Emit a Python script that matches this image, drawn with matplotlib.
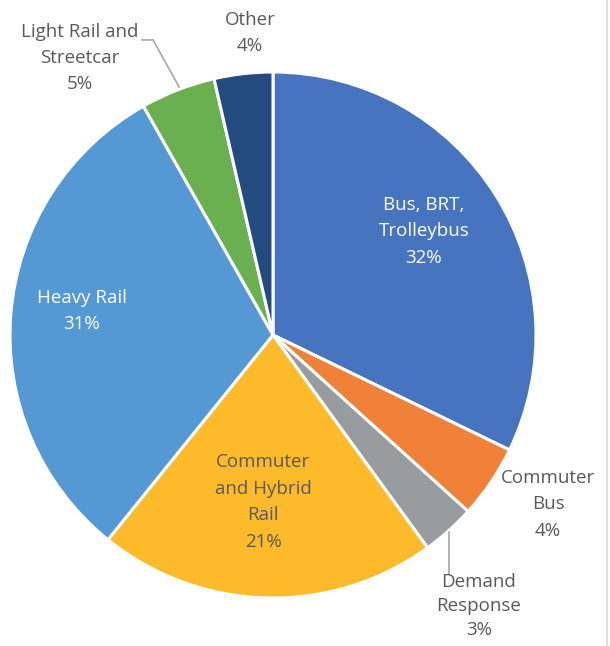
import matplotlib
matplotlib.use("Agg")
import matplotlib.pyplot as plt
from matplotlib.lines import Line2D

categories = ["Bus, BRT,\nTrolleybus", "Commuter\nBus", "Demand\nResponse",
              "Commuter\nand Hybrid\nRail", "Heavy Rail", "Light Rail and\nStreetcar", "Other"]
shares = [32.2, 4.5, 3.3, 20.8, 31.0, 4.6, 3.6]
pct_labels = ["32%", "4%", "3%", "21%", "31%", "5%", "4%"]

colors = ["#4674BE", "#F08138", "#999C9F", "#FDBB2B", "#5499D4", "#6BB050", "#234B7F"]
text_colors = ["white", "#595959", "#595959", "#595959", "white", "#595959", "#595959"]
label_pos = [(0.574, 0.395), (1.046, -0.643), (0.783, -1.030), (-0.038, -0.635),
             (-0.726, 0.091), (-0.734, 1.053), (-0.087, 1.148)]

W, H = 610, 646
fig = plt.figure(figsize=(W / 100, H / 100), dpi=100)
cx, cy, R = 273, 335, 263
ax = fig.add_axes([(cx - R) / W, (H - cy - R) / H, 2 * R / W, 2 * R / H])

ax.pie(shares, colors=colors, startangle=90, counterclock=False, radius=1,
       wedgeprops=dict(edgecolor="white", linewidth=2.2))
ax.set_xlim(-1, 1)
ax.set_ylim(-1, 1)
ax.set_aspect("equal")
ax.axis("off")

for i, (name, pct, (x, y), tc) in enumerate(zip(categories, pct_labels, label_pos, text_colors)):
    ax.text(x, y, name + "\n" + pct, ha="center", va="center", color=tc,
            fontsize=13.5, family="Open Sans",
            linespacing=1.6 if i != 2 else 1.45, clip_on=False)

# leader lines
ax.add_line(Line2D([-0.498, -0.456, -0.357], [1.122, 1.122, 0.943], color="#A6A6A6",
                   lw=1.2, clip_on=False))
ax.add_line(Line2D([0.669, 0.669], [-0.749, -0.909], color="#A6A6A6", lw=1.2, clip_on=False))

# chart frame edge on the right
fig.add_artist(Line2D([607 / W, 607 / W], [0, 1], color="#D9D9D9", lw=1.2,
                      transform=fig.transFigure))

fig.savefig("out.png", dpi=100)
